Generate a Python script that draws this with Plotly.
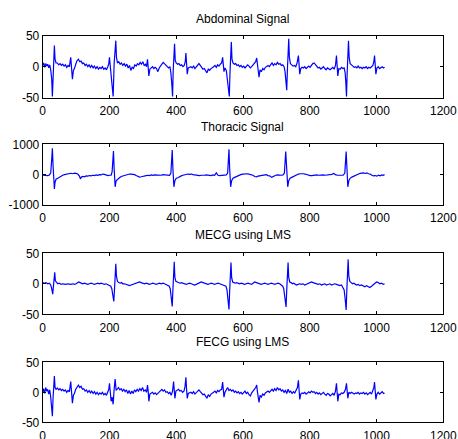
import plotly.graph_objects as go

# ---------------- data ----------------
abd_x = [0,3,6,9,12,15,18,21,24,27,29,31,33,35,37,40,44,48,52,56,60,64,68,72,76,80,84,86,89,92,95,99,103,107,111,115,119,123,127,131,135,139,143,147,151,155,159,163,167,171,175,179,183,187,191,195,198,200,202,205,208,211,214,217,219,221,224,228,232,236,240,244,248,252,256,260,264,268,272,276,280,284,288,292,296,300,304,308,311,314,316,318,321,325,329,333,337,341,345,349,353,357,361,365,369,373,377,381,384,387,389,391,393,395,397,400,404,408,412,416,420,424,427,429,431,433,436,440,444,448,452,456,460,464,468,472,476,480,484,488,492,496,500,504,508,512,516,520,524,528,532,536,539,541,543,546,550,553,556,559,561,563,565,567,570,574,578,582,586,590,594,598,602,606,610,614,618,622,626,630,634,638,641,643,645,648,651,655,659,663,667,671,675,679,683,687,691,695,699,703,707,711,715,719,723,726,728,731,733,735,737,739,742,746,750,754,758,762,766,768,770,773,777,781,785,789,793,797,801,805,809,813,817,821,825,829,833,837,841,845,849,853,857,861,865,869,873,877,880,882,884,887,891,895,899,903,906,908,910,912,914,916,918,921,925,929,933,937,941,945,949,953,957,961,965,969,973,977,981,985,989,992,994,996,998,1001,1005,1009,1013,1017,1021,1024]
abd_y = [2,6,-1,5,1,4,-2,3,-5,-20,-48,-10,20,34,12,6,6,3,5,2,4,1,3,-1,2,0,15,4,-20,-6,-3,4,10,12,8,9,5,6,2,4,0,3,-1,2,-2,1,-3,0,-4,-1,-3,0,-4,-2,-5,0,5,15,2,-10,-25,-48,5,30,42,15,6,8,4,6,2,5,1,4,-2,2,-6,-1,-3,3,1,5,3,7,4,8,2,4,0,12,2,-15,-4,-2,0,-3,-1,-3,-8,-2,2,4,7,5,2,1,-2,0,-10,-30,-48,-5,20,37,10,6,4,5,2,3,0,2,8,22,5,-12,-2,-1,0,-2,1,-3,0,3,5,2,-1,-4,-3,-6,-10,-4,-6,-3,-2,0,2,-1,3,1,4,6,15,2,-8,-2,-6,-20,-35,-48,-10,25,40,12,6,4,5,2,3,0,2,-1,1,-2,0,3,1,-2,0,3,5,8,14,2,-10,-17,-5,-8,-3,-5,-1,0,2,0,3,6,2,5,3,7,4,5,2,3,0,-8,-20,-38,-5,30,45,15,5,3,1,2,0,6,18,3,-12,-3,-1,-2,0,-3,-1,1,-1,3,5,6,3,1,-2,-1,-4,-2,0,-3,-5,-2,-3,-5,-3,-1,-4,2,18,0,-15,-3,-4,-1,-3,-2,-10,-25,-48,-10,25,42,15,5,3,1,-1,0,-2,1,-2,-1,-3,-1,-2,0,-3,-1,-2,0,2,8,18,3,-12,-2,0,-3,-1,0,-2,-1]

tho_x = [0,5,10,15,20,24,27,29,31,33,35,37,40,45,50,55,60,65,70,75,80,85,90,95,100,105,110,113,116,120,125,130,135,140,145,150,155,160,165,170,175,180,185,190,195,200,205,208,212,214,217,220,225,230,235,240,245,250,255,260,265,270,275,280,285,290,295,300,305,310,315,320,325,330,335,340,345,350,355,360,365,370,375,380,384,388,390,393,396,400,405,410,415,420,425,430,435,440,445,450,455,460,465,470,475,480,485,490,495,500,505,510,515,520,525,530,535,540,545,550,554,558,560,563,566,570,575,580,585,590,595,600,605,610,615,620,625,630,635,640,645,650,655,660,665,670,675,680,686,692,698,704,710,715,720,724,728,730,734,737,741,746,751,756,761,766,771,776,781,786,791,796,801,806,811,816,821,826,831,836,841,846,851,856,861,866,872,878,884,890,895,900,905,909,911,914,917,921,926,931,936,941,946,951,956,961,966,971,976,981,986,991,996,1001,1006,1011,1016,1020,1024]
tho_y = [-20,-25,-20,-30,-10,50,500,870,300,-200,-470,-250,-150,-120,-80,-50,-20,0,10,30,40,45,30,50,40,20,-50,-140,-80,-60,-70,-40,-50,-30,-40,-20,-30,-10,-20,0,-10,20,10,-10,-30,-20,-20,100,780,200,-400,-200,-130,-100,-60,-40,-20,0,10,20,15,10,0,-30,-60,-80,-70,-50,-40,-30,-20,-30,-10,-20,-5,-10,-20,-10,-20,0,-10,-20,-10,-20,50,810,200,-400,-200,-120,-100,-60,-40,-20,0,10,20,10,20,0,-10,-30,-40,-30,-20,-30,-20,-10,-20,-10,-30,-10,-20,60,-20,-30,-20,-10,-20,-10,50,835,200,-400,-200,-120,-90,-60,-30,0,10,20,30,20,30,10,0,-20,-60,-70,-50,-40,-30,-20,-10,0,-30,-40,-90,-40,-20,-10,-20,-20,-10,50,760,200,-400,-200,-120,-90,-60,-30,0,20,30,40,30,20,0,-10,-30,-30,-20,-30,-10,-20,-10,-20,-10,-20,-10,-20,-10,10,40,-10,-20,-30,-20,-20,50,760,200,-400,-200,-120,-80,-50,-20,10,20,40,50,60,40,60,30,20,-20,-40,-30,-50,-20,-40,-10,-20,0]

mecg_x = [0,5,10,15,20,24,27,30,32,34,36,38,41,45,50,55,60,65,70,75,80,85,90,95,100,104,108,112,116,120,125,130,135,140,145,150,155,160,165,170,175,180,185,190,195,200,204,207,210,213,215,217,219,221,224,228,232,236,240,245,250,255,260,265,270,275,280,285,290,295,300,305,310,315,320,325,330,335,340,345,350,355,360,365,370,375,379,382,385,388,390,392,394,396,399,403,407,411,415,420,425,430,435,440,445,450,455,460,465,470,475,480,485,490,495,500,505,510,515,520,525,530,535,540,545,549,552,555,558,560,562,564,566,569,573,577,581,585,590,595,600,605,610,615,620,625,630,635,640,645,650,655,660,665,670,675,680,685,690,695,700,705,710,715,719,722,725,729,731,733,735,737,740,744,748,752,756,760,765,770,775,780,785,790,795,800,805,810,815,820,825,830,835,840,845,850,855,860,865,870,875,880,885,890,895,899,903,906,909,911,913,915,917,920,924,928,932,936,940,945,950,955,960,965,970,975,980,985,990,995,1000,1005,1010,1015,1020,1024]
mecg_y = [2,1,2,0,1,-2,-8,-17,-5,10,19,5,2,0,1,-1,0,-1,-1,0,-1,-1,0,-1,0,1,3,2,1,0,1,0,-1,0,1,0,-1,0,1,0,1,0,-1,0,-1,-2,-4,-8,-18,-29,-10,15,33,12,4,2,1,2,0,0,-1,-2,-3,-2,-1,0,1,2,3,2,1,0,1,0,-1,0,1,0,-1,0,1,0,1,0,-1,-2,-4,-8,-20,-37,-10,20,36,10,4,3,2,1,2,1,0,-1,0,1,0,-1,-2,-1,0,2,3,2,1,0,-1,0,1,0,-1,0,1,0,-1,-1,-2,-4,-10,-25,-42,-12,20,35,10,3,2,1,2,1,0,1,0,-1,0,1,0,-1,1,3,2,1,0,-1,0,1,0,-1,0,1,0,-1,0,1,0,-2,-4,-8,-20,-38,-10,18,35,10,3,2,0,1,-1,-2,-1,0,-1,0,-2,-1,0,1,3,2,1,0,-1,0,-2,-1,0,-2,-1,0,-2,-1,0,-1,-2,-3,-2,-5,-10,-25,-43,-10,20,40,12,4,2,0,1,-1,-2,-1,-3,-2,-4,-5,-3,-4,-6,-4,-2,1,3,2,0,1,-1,0]

fecg_x = [0,3,6,9,12,15,18,21,24,27,29,31,33,35,37,40,44,48,52,56,60,64,68,72,76,80,84,86,89,92,95,99,103,107,111,115,119,123,127,131,135,139,143,147,151,155,159,163,167,171,175,179,183,187,191,195,198,200,202,205,208,211,214,217,220,223,227,231,235,239,243,247,251,255,259,263,267,271,275,279,283,287,291,295,299,303,307,311,314,316,318,321,325,329,333,337,341,345,349,353,357,361,365,369,373,377,381,385,389,392,394,396,399,403,407,411,415,419,423,426,429,431,433,436,440,444,448,452,456,460,464,468,472,476,480,484,488,492,496,500,504,508,512,516,520,524,528,532,536,539,541,543,546,550,554,558,562,566,570,574,578,582,586,590,594,598,602,606,610,614,618,622,626,630,634,638,641,643,645,648,651,655,659,663,667,671,675,679,683,687,691,695,699,703,707,711,715,719,723,727,731,735,739,743,747,751,755,759,763,766,768,770,773,777,781,785,789,793,797,801,805,809,813,817,821,825,829,833,837,841,845,849,853,857,861,865,869,873,877,880,882,884,887,891,895,899,903,907,910,912,914,917,921,925,929,933,937,941,945,949,953,957,961,965,969,973,977,981,985,989,992,994,996,998,1001,1005,1009,1013,1017,1021,1024]
fecg_y = [0,6,-2,8,2,5,-3,4,-8,-25,-40,-10,15,27,8,5,7,4,6,3,5,2,4,0,3,1,18,5,-18,-5,-2,5,10,12,8,10,5,6,2,4,0,3,-1,2,-2,1,-3,0,-4,-1,-3,0,-4,-2,-5,0,5,15,2,-15,-8,-20,5,22,3,5,8,4,6,2,5,1,4,-2,3,-3,2,-2,4,1,5,2,6,3,8,2,4,0,12,2,-15,-3,-2,0,-3,-1,-4,-2,1,3,5,2,4,0,1,-2,0,-5,2,18,-2,-10,2,3,5,2,3,0,2,8,25,5,-10,-2,-1,0,-2,1,-3,0,2,4,1,-2,-4,-3,-6,-10,-4,-7,-3,-2,0,2,-1,3,1,4,5,17,2,-8,0,4,8,3,5,2,4,0,2,-1,1,-2,0,-3,-1,2,-2,0,-4,-6,-1,3,5,8,12,2,-8,-17,-5,-8,-3,-5,-1,0,2,0,3,5,2,6,3,8,4,6,2,4,0,3,-2,5,0,2,-2,1,-1,4,8,20,3,-12,-3,-1,-2,0,-3,-1,1,-1,2,0,1,-2,0,-3,-1,-4,-2,0,-3,-5,-2,-3,-6,-4,-2,-5,2,15,0,-15,-3,-4,-1,-2,0,5,15,2,-10,0,-2,0,-1,-3,-1,-2,0,-3,-1,-2,0,-3,-1,-4,-2,0,-3,2,8,17,3,-12,-3,0,-3,-1,1,-2,-1]

titles = ["Abdominal Signal", "Thoracic Signal", "MECG using LMS", "FECG using LMS"]
series_x = [abd_x, tho_x, mecg_x, fecg_x]
series_y = [abd_y, tho_y, mecg_y, fecg_y]
y_limits = [[-50, 50], [-1000, 1000], [-50, 50], [-50, 50]]
y_ticks = [[-50, 0, 50], [-1000, 0, 1000], [-50, 0, 50], [-50, 0, 50]]
x_ticks = [0, 200, 400, 600, 800, 1000, 1200]

# ---------------- layout geometry ----------------
W, H = 458, 439
left_px, right_px = 42.7, 443.3
boxes_px = [(35.7, 97.7), (144.3, 205.0), (253.3, 314.3), (362.3, 422.3)]
title_px = [19.0, 126.7, 235.0, 341.7]

font = dict(family="Liberation Sans, Arial, sans-serif", size=12, color="black")

fig = go.Figure()
layout = dict(
    width=W, height=H, autosize=False,
    margin=dict(l=0, r=0, t=0, b=0),
    paper_bgcolor="white", plot_bgcolor="white",
    showlegend=False, font=font, annotations=[],
)

for i in range(4):
    n = "" if i == 0 else str(i + 1)
    fig.add_trace(go.Scatter(
        x=series_x[i], y=series_y[i], mode="lines",
        line=dict(color="#0000FF", width=1.2),
        xaxis="x" + n, yaxis="y" + n, hoverinfo="skip",
    ))
    top, bot = boxes_px[i]
    common = dict(showline=True, linecolor="black", linewidth=1, mirror="ticks",
                  ticks="inside", ticklen=3, tickcolor="black", tickwidth=1,
                  showgrid=False, zeroline=False, tickfont=font, automargin=False)
    layout["xaxis" + n] = dict(common, domain=[left_px / W, right_px / W],
                               range=[0, 1200], tickvals=x_ticks,
                               ticktext=[str(v) for v in x_ticks],
                               ticklabelstandoff=2,
                               anchor="y" + n)
    layout["yaxis" + n] = dict(common, domain=[1 - bot / H, 1 - top / H],
                               range=y_limits[i], tickvals=y_ticks[i],
                               ticktext=[str(v) for v in y_ticks[i]],
                               anchor="x" + n)
    layout["annotations"].append(dict(
        text=titles[i], xref="paper", yref="paper",
        x=(left_px + right_px) / 2 / W, y=1 - title_px[i] / H,
        xanchor="center", yanchor="middle", showarrow=False, font=font,
    ))

fig.update_layout(**layout)
fig.write_html("out.html",
               config={"displayModeBar": False, "staticPlot": True},
               post_script="document.body.style.margin='0';document.body.style.overflow='hidden';")
